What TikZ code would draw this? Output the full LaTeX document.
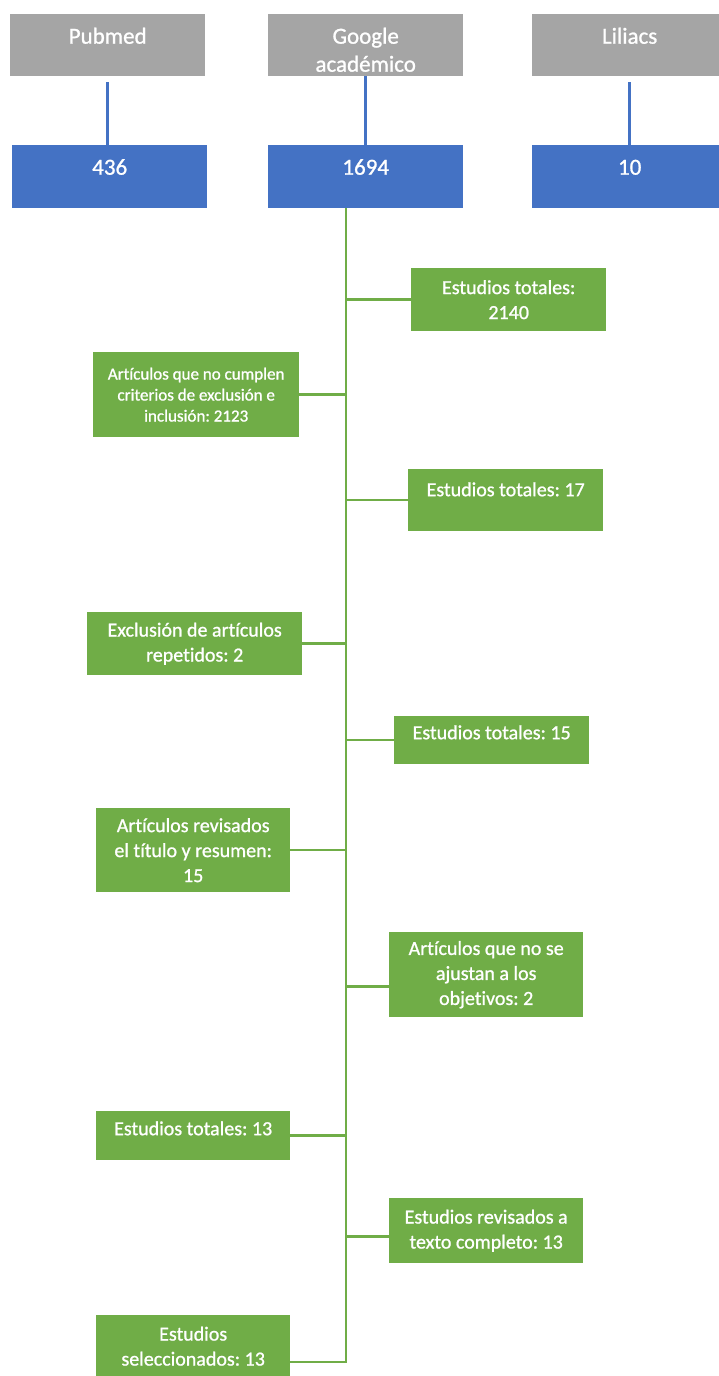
\documentclass[tikz,border=0pt]{standalone}
\usepackage{fontspec}
\setmainfont{Carlito}[Ligatures=NoCommon, FakeBold=1]
\frenchspacing
\usetikzlibrary{positioning}

\definecolor{srcgray}{HTML}{A5A5A5}
\definecolor{numblue}{HTML}{4472C4}
\definecolor{stepgreen}{HTML}{70AD47}

\tikzset{
    basebox/.style={anchor=north west, inner sep=0pt, text=white, align=center},
    srcbox/.style={basebox, fill=srcgray, minimum width=195pt, minimum height=62pt, font=\fontsize{23}{28}\selectfont},
    numbox/.style={basebox, fill=numblue, minimum width=195pt, minimum height=63pt, font=\fontsize{23}{28}\selectfont},
    stepbox/.style={basebox, fill=stepgreen, minimum width=195pt, font=\fontsize{20}{25}\selectfont},
    lift/.style={text height=15pt, text depth=#1},
    bline/.style={numblue, line width=2.5pt},
    gline/.style={stepgreen, line width=2.5pt}
}

\begin{document}
\begin{tikzpicture}[x=1pt, y=-1pt]
        \useasboundingbox (0,0) rectangle (718,1376);
        \node[srcbox, lift=18pt] (pubmed) at (10,14) {Pubmed};
        \node[srcbox, text height=53pt, text depth=0pt] (google) at (268,14) {Google\\académico};
        \node[srcbox, lift=18pt] (liliacs) at (532,14) {Liliacs};
        \node[numbox, lift=19pt] (n436) at (12,145) {436};
        \node[numbox, lift=19pt] (n1694) at (268,145) {1694};
        \node[numbox, lift=19pt] (n10) at (532,145) {10};
        \node[stepbox, minimum height=63pt] (tot2140) at (411,268) {Estudios totales:\\2140};
        \node[stepbox, minimum width=206pt, minimum height=85pt, font=\fontsize{17}{21}\selectfont] (noCrit) at (93,352) {Artículos que no cumplen\\criterios de exclusión e\\inclusión: 2123};
        \node[stepbox, minimum height=62pt, lift=23pt] (tot17) at (408,469) {Estudios totales: 17};
        \node[stepbox, minimum width=215pt, minimum height=63pt] (repet) at (87,612) {Exclusión de artículos\\repetidos: 2};
        \node[stepbox, minimum height=48pt, lift=17pt] (tot15) at (394,716) {Estudios totales: 15};
        \node[stepbox, minimum width=194pt, minimum height=84pt] (titRes) at (96,808) {Artículos revisados\\el título y resumen:\\15};
        \node[stepbox, minimum width=194pt, minimum height=85pt] (noObj) at (389,932) {Artículos que no se\\ajustan a los\\objetivos: 2};
        \node[stepbox, minimum width=194pt, minimum height=49pt, lift=16pt] (tot13) at (96,1111) {Estudios totales: 13};
        \node[stepbox, minimum width=194pt, minimum height=65pt] (textoC) at (389,1198) {Estudios revisados a\\texto completo: 13};
        \node[stepbox, minimum width=194pt, minimum height=62pt] (selec) at (96,1315) {Estudios\\seleccionados: 13};

        \draw[bline] ([yshift=-6pt]pubmed.south) -- (pubmed.south |- n436.north);
        \draw[bline] (google.south) -- (n1694.north);
        \draw[bline] ([yshift=-6pt]liliacs.south) -- (liliacs.south |- n10.north);

        \coordinate (trunkEnd) at (346,1362);
        \coordinate (objJoin) at ([yshift=-12pt]noObj.west);
        \coordinate (textoJoin) at ([yshift=-6pt]textoC.west);
        \draw[gline] (n1694.south -| trunkEnd) -- (trunkEnd) -- (trunkEnd -| selec.east);
        \foreach \b in {tot2140, tot17, tot15}
            \draw[gline] (\b.west) -- (\b.west -| trunkEnd);
        \foreach \b in {noCrit, repet, titRes, tot13}
            \draw[gline] (\b.east) -- (\b.east -| trunkEnd);
        \foreach \j in {objJoin, textoJoin}
            \draw[gline] (\j) -- (\j -| trunkEnd);
    \end{tikzpicture}
\end{document}
